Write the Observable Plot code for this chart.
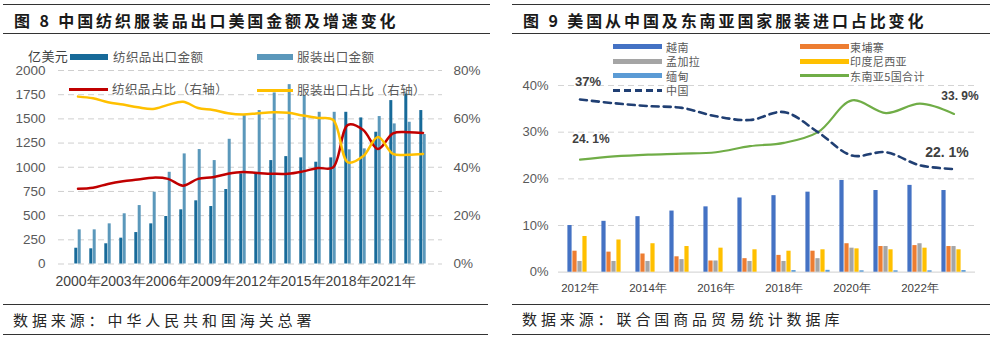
<!DOCTYPE html>
<html><head><meta charset="utf-8">
<script src="https://cdn.jsdelivr.net/npm/d3@7"></script>
<script src="https://cdn.jsdelivr.net/npm/@observablehq/plot@0.6"></script>
<style>
body{margin:0;background:#fff;width:1003px;height:341px;position:relative;overflow:hidden;font-family:"Noto Sans CJK SC","Noto Sans",sans-serif;}
.hr{position:absolute;height:0;border-top:1.5px solid #333;}
.title{position:absolute;font-weight:700;font-size:16px;line-height:16px;letter-spacing:2.9px;color:#1a1a1a;white-space:nowrap;}
.foot{position:absolute;font-size:15px;line-height:16px;letter-spacing:3.9px;color:#262626;white-space:nowrap;}
.leg{position:absolute;font-size:12.5px;line-height:14px;color:#595959;white-space:nowrap;letter-spacing:0.4px;}
.sw{position:absolute;}
.chart{position:absolute;}
</style>
</head><body>
<div class="hr" style="left:3px;top:4px;width:487px"></div>
<div class="title" style="left:14px;top:12px">图 8 中国纺织服装品出口美国金额及增速变化</div>
<div class="hr" style="left:3px;top:33px;width:487px"></div>
<div class="hr" style="left:3px;top:304px;width:485px"></div>
<div class="foot" style="left:13px;top:312px">数据来源：中华人民共和国海关总署</div>
<div class="hr" style="left:3px;top:334px;width:485px"></div>

<div class="hr" style="left:512px;top:4px;width:478px"></div>
<div class="title" style="left:523px;top:12px">图 9 美国从中国及东南亚国家服装进口占比变化</div>
<div class="hr" style="left:512px;top:33px;width:478px"></div>
<div class="hr" style="left:512px;top:304px;width:478px"></div>
<div class="foot" style="left:522px;top:311px">数据来源：联合国商品贸易统计数据库</div>
<div class="hr" style="left:512px;top:334px;width:478px"></div>

<div id="left" class="chart" style="left:0;top:40px"></div>
<div id="right" class="chart" style="left:500px;top:40px"></div>

<div class="leg" style="left:28px;top:50px;font-size:13px;line-height:12px;color:#404040">亿美元</div>
<div class="sw" style="left:70px;top:54px;width:38px;height:6px;background:#176a99"></div>
<div class="leg" style="left:113px;top:50px">纺织品出口金额</div>
<div class="sw" style="left:257px;top:54px;width:36px;height:6px;background:#5b98bb"></div>
<div class="leg" style="left:297px;top:50px">服装出口金额</div>
<div class="sw" style="left:69px;top:88px;width:39px;height:3px;background:#c00000"></div>
<div class="leg" style="left:112px;top:82px">纺织品占比（右轴）</div>
<div class="sw" style="left:257px;top:89px;width:36px;height:3px;background:#ffc000"></div>
<div class="leg" style="left:297px;top:83px">服装出口占比（右轴）</div>

<div id="rleg"></div>

<script>
// ---------- Figure 8 data ----------
const years8 = [2000,2001,2002,2003,2004,2005,2006,2007,2008,2009,2010,2011,2012,2013,2014,2015,2016,2017,2018,2019,2020,2021,2022,2023];
const textileExport = [163,157,209,267,325,415,491,560,653,594,770,932,948,1069,1110,1097,1052,1097,1568,1510,1362,1689,1758,1586];
const apparelExport = [353,353,415,519,604,742,948,1138,1183,1069,1289,1534,1586,1768,1854,1741,1568,1568,1180,1190,1524,1448,1465,1338];
const textileShare = [31.1,31.5,33.1,34.2,34.9,35.7,35.2,32.4,35.2,35.9,37.3,38.0,37.6,37.3,37.3,38.3,39.7,39.9,57.5,55.5,47.5,54.0,54.5,54.2];
const apparelShare = [69.2,68.5,66.9,65.9,64.8,64.1,65.8,67.1,64.5,63.7,62.3,61.8,62.3,62.7,62.5,61.4,60.4,59.6,42.0,44.5,52.5,45.5,45.2,45.5];
const leftTicks = [0,250,500,750,1000,1250,1500,1750,2000];
const rightTickPct = [0,20,40,60,80];
const xLabelYears8 = [2000,2003,2006,2009,2012,2015,2018,2021];

// ---------- Figure 9 data ----------
const years9 = [2012,2013,2014,2015,2016,2017,2018,2019,2020,2021,2022,2023];
const vietnam    = [10.0,10.9,11.9,13.1,14.0,15.9,16.4,17.15,19.65,17.5,18.6,17.5];
const cambodia   = [4.5,4.3,3.9,3.3,2.4,2.9,3.6,4.5,6.1,5.5,5.7,5.5];
const bangladesh = [2.3,2.3,2.3,2.7,2.4,2.3,2.3,2.9,5.15,5.5,6.1,5.5];
const indonesia  = [7.65,6.9,6.1,5.5,5.15,4.8,4.5,4.8,5.0,4.8,5.15,4.8];
const myanmar    = [0,0,0,0,0,0,0.35,0.4,0.3,0.3,0.3,0.35];
const sea5Total  = [24.1,24.8,25.2,25.4,25.7,27.0,27.7,30.0,36.8,34.1,36.1,33.9];
const chinaShare = [37.0,36.2,35.6,35.2,33.4,32.6,34.3,30.0,25.0,25.7,22.9,22.1];
const pctTicks9 = [0,10,20,30,40];
const xLabelYears9 = [2012,2014,2016,2018,2020,2022];
const seriesNames = ["越南","柬埔寨","孟加拉","印度尼西亚","缅甸","东南亚5国合计","中国"];
const seriesColors = ["#4472c4","#ed7d31","#a5a5a5","#ffc000","#5b9bd5","#70ad47","#203f73"];
const endLabels = [
  {year:2012, v:37.0, text:"37%"},
  {year:2012, v:24.1, text:"24. 1%"},
  {year:2023, v:22.1, text:"22. 1%"},
  {year:2023, v:33.9, text:"33. 9%"}
];

// ---------- Figure 8 ----------
const k = 25; // right axis: 80% <-> 2000
const d8 = years8.map((y,i)=>({year:y, textile:textileExport[i], apparel:apparelExport[i], ts:textileShare[i]*k, as:apparelShare[i]*k}));
const left = Plot.plot({
  width:490, height:265, marginLeft:58, marginRight:48, marginTop:30, marginBottom:41.5,
  style:{fontFamily:"'Liberation Sans',Arial,sans-serif", fontSize:"13px", color:"#595959", background:"transparent"},
  x:{type:"band", domain:years8, paddingInner:0.787, paddingOuter:0.44, label:null},
  y:{domain:[0,2000], label:null},
  marks:[
    Plot.ruleY(leftTicks, {stroke:"#cfcfcf", strokeDasharray:"6,4"}),
    Plot.barY(d8, {x:"year", y:"textile", fill:"#176a99", dx:-1.7}),
    Plot.barY(d8, {x:"year", y:"apparel", fill:"#5b98bb", dx:1.7}),
    Plot.lineY(d8, {x:"year", y:"ts", stroke:"#c00000", strokeWidth:2.5, curve:"catmull-rom"}),
    Plot.lineY(d8, {x:"year", y:"as", stroke:"#ffc000", strokeWidth:2.5, curve:"catmull-rom"}),
    Plot.axisY({anchor:"left", ticks:leftTicks, tickFormat:d=>String(d), tickSize:0, tickPadding:13, fontSize:13.5}),
    Plot.axisY({anchor:"right", ticks:rightTickPct.map(p=>p*k), tickFormat:d=>(d/k)+"%", tickSize:0, tickPadding:11, fontSize:13.5}),
    Plot.axisX({ticks:xLabelYears8, tickFormat:d=>d+"年", tickSize:0, tickPadding:12, fontSize:14, fill:"#404040"})
  ]
});
document.getElementById("left").append(left);

// ---------- Figure 9 ----------
const d9 = years9.map((y,i)=>({year:y, vn:vietnam[i], kh:cambodia[i], bd:bangladesh[i], id:indonesia[i], mm:myanmar[i], sea:sea5Total[i], cn:chinaShare[i]}));
const barKeys = ["vn","kh","bd","id","mm"];
const right = Plot.plot({
  width:500, height:260, marginLeft:58, marginRight:25, marginTop:45, marginBottom:28.3,
  style:{fontFamily:"'Liberation Sans',Arial,sans-serif", fontSize:"13px", color:"#595959", background:"transparent"},
  x:{type:"band", domain:years9, paddingInner:0.855, paddingOuter:0.464, label:null},
  y:{domain:[0,40], label:null},
  marks:[
    Plot.ruleY(pctTicks9.slice(1), {stroke:"#d4d4d4", strokeDasharray:"6,4"}),
    Plot.ruleY([0], {stroke:"#d9d9d9", strokeWidth:1.2}),
    ...barKeys.map((key,j)=>Plot.barY(d9, {x:"year", y:key, fill:seriesColors[j], dx:(j-2)*5, insetLeft:0.4, insetRight:0.4})),
    Plot.lineY(d9, {x:"year", y:"sea", stroke:seriesColors[5], strokeWidth:2.2, curve:"catmull-rom"}),
    Plot.lineY(d9, {x:"year", y:"cn", stroke:seriesColors[6], strokeWidth:2.6, strokeDasharray:"7,5", curve:"catmull-rom"}),
    Plot.text(endLabels.slice(0,1), {x:"year", y:"v", text:"text", dx:8, dy:-18, fontWeight:"bold", fontSize:13, fill:"#404040"}),
    Plot.text(endLabels.slice(1,2), {x:"year", y:"v", text:"text", dx:11, dy:-21, fontWeight:"bold", fontSize:12, fill:"#404040"}),
    Plot.text(endLabels.slice(2,3), {x:"year", y:"v", text:"text", dx:-7, dy:-17, fontWeight:"bold", fontSize:14, fill:"#404040"}),
    Plot.text(endLabels.slice(3,4), {x:"year", y:"v", text:"text", dx:6, dy:-18, fontWeight:"bold", fontSize:12, fill:"#404040"}),
    Plot.axisY({anchor:"left", ticks:pctTicks9, tickFormat:d=>d+"%", tickSize:0, tickPadding:10, fontSize:13}),
    Plot.axisX({ticks:xLabelYears9, tickFormat:d=>d+"年", tickSize:0, tickPadding:12, fontSize:11.5, fill:"#404040"})
  ]
});
document.getElementById("right").append(right);

// ---------- Figure 9 legend (HTML) ----------
const legPos = [
  {x:613, y:46.5, tx:666, kind:"bar"},
  {x:800, y:46.5, tx:850, kind:"bar"},
  {x:613, y:61, tx:666, kind:"bar"},
  {x:800, y:61, tx:850, kind:"bar"},
  {x:613, y:75.5, tx:666, kind:"bar"},
  {x:800, y:75.5, tx:850, kind:"line"},
  {x:613, y:90, tx:666, kind:"dash"}
];
const rleg = document.getElementById("rleg");
seriesNames.forEach((name,i)=>{
  const p = legPos[i];
  const sw = document.createElement("div");
  sw.className = "sw";
  const h = p.kind==="bar" ? 5 : 3;
  sw.style.left = p.x+"px"; sw.style.top = (p.y-h/2)+"px"; sw.style.width = "49px"; sw.style.height = h+"px";
  if (p.kind==="dash") {
    sw.style.background = `repeating-linear-gradient(90deg, ${seriesColors[i]} 0 7px, transparent 7px 11px)`;
  } else sw.style.background = seriesColors[i];
  rleg.append(sw);
  const t = document.createElement("div");
  t.className = "leg"; t.textContent = name;
  t.style.left = p.tx+"px"; t.style.top = (p.y-6)+"px"; t.style.fontSize = "11px"; t.style.lineHeight = "12px";
  rleg.append(t);
});
</script>
</body></html>
